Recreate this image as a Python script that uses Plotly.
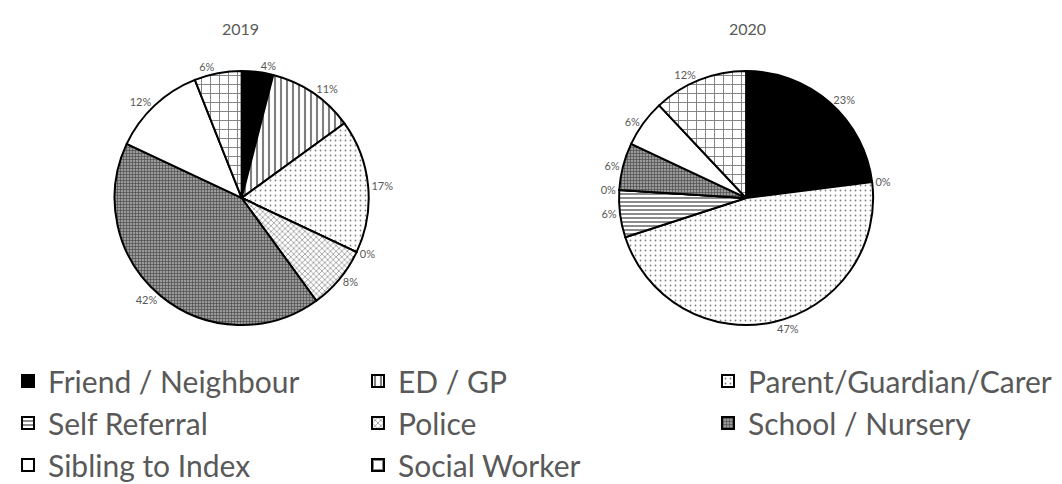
import plotly.graph_objects as go

categories = ["Friend / Neighbour", "ED / GP", "Parent/Guardian/Carer", "Self Referral",
              "Police", "School / Nursery", "Sibling to Index", "Social Worker"]
values_2019 = [4, 11, 17, 0, 8, 42, 12, 6]
values_2020 = [23, 0, 47, 6, 0, 6, 6, 12]

# fill colour + pattern per category (greyscale print style)
fills = ["black", "white", "white", "white", "white", "#9a9a9a", "white", "white"]
shapes = ["", "|", ".", "-", "x", "+", "", "+"]
pat_size = [8, 6, 5, 4, 4, 3, 8, 9]
pat_solid = [0.3, 0.35, 0.1, 0.45, 0.3, 0.4, 0.3, 0.2]

grey = "#595959"

def pie(vals, domain, show):
    return go.Pie(
        labels=categories, values=vals, sort=False, direction="clockwise", rotation=0,
        domain=domain, showlegend=show,
        textposition="outside", texttemplate="%{percent:.0%}",
        textfont=dict(size=11, color=grey),
        marker=dict(colors=fills, line=dict(color="black", width=2),
                    pattern=dict(shape=shapes, size=pat_size, solidity=pat_solid,
                                 fgcolor="black", fillmode="overlay")),
    )

fig = go.Figure()
fig.add_trace(pie(values_2019, dict(x=[0.06, 0.38], y=[0.345, 0.87]), True))
fig.add_trace(pie(values_2020, dict(x=[0.535, 0.855], y=[0.345, 0.87]), False))

# year titles above each pie
fig.add_annotation(text="2019", x=0.219, y=0.957, xref="paper", yref="paper",
                   showarrow=False, font=dict(size=16, color=grey),
                   xanchor="center", yanchor="middle")
fig.add_annotation(text="2020", x=0.696, y=0.957, xref="paper", yref="paper",
                   showarrow=False, font=dict(size=16, color=grey),
                   xanchor="center", yanchor="middle")

fig.update_layout(
    width=1062, height=484,
    margin=dict(l=0, r=0, t=0, b=0),
    paper_bgcolor="white",
    font=dict(family="Lato, Open Sans, sans-serif", color=grey),
    legend=dict(orientation="h", x=0, y=0.283, xanchor="left", yanchor="top",
                entrywidth=305, entrywidthmode="pixels", itemwidth=30,
                font=dict(size=30, color=grey), traceorder="normal"),
)

fig.write_html("out.html")
